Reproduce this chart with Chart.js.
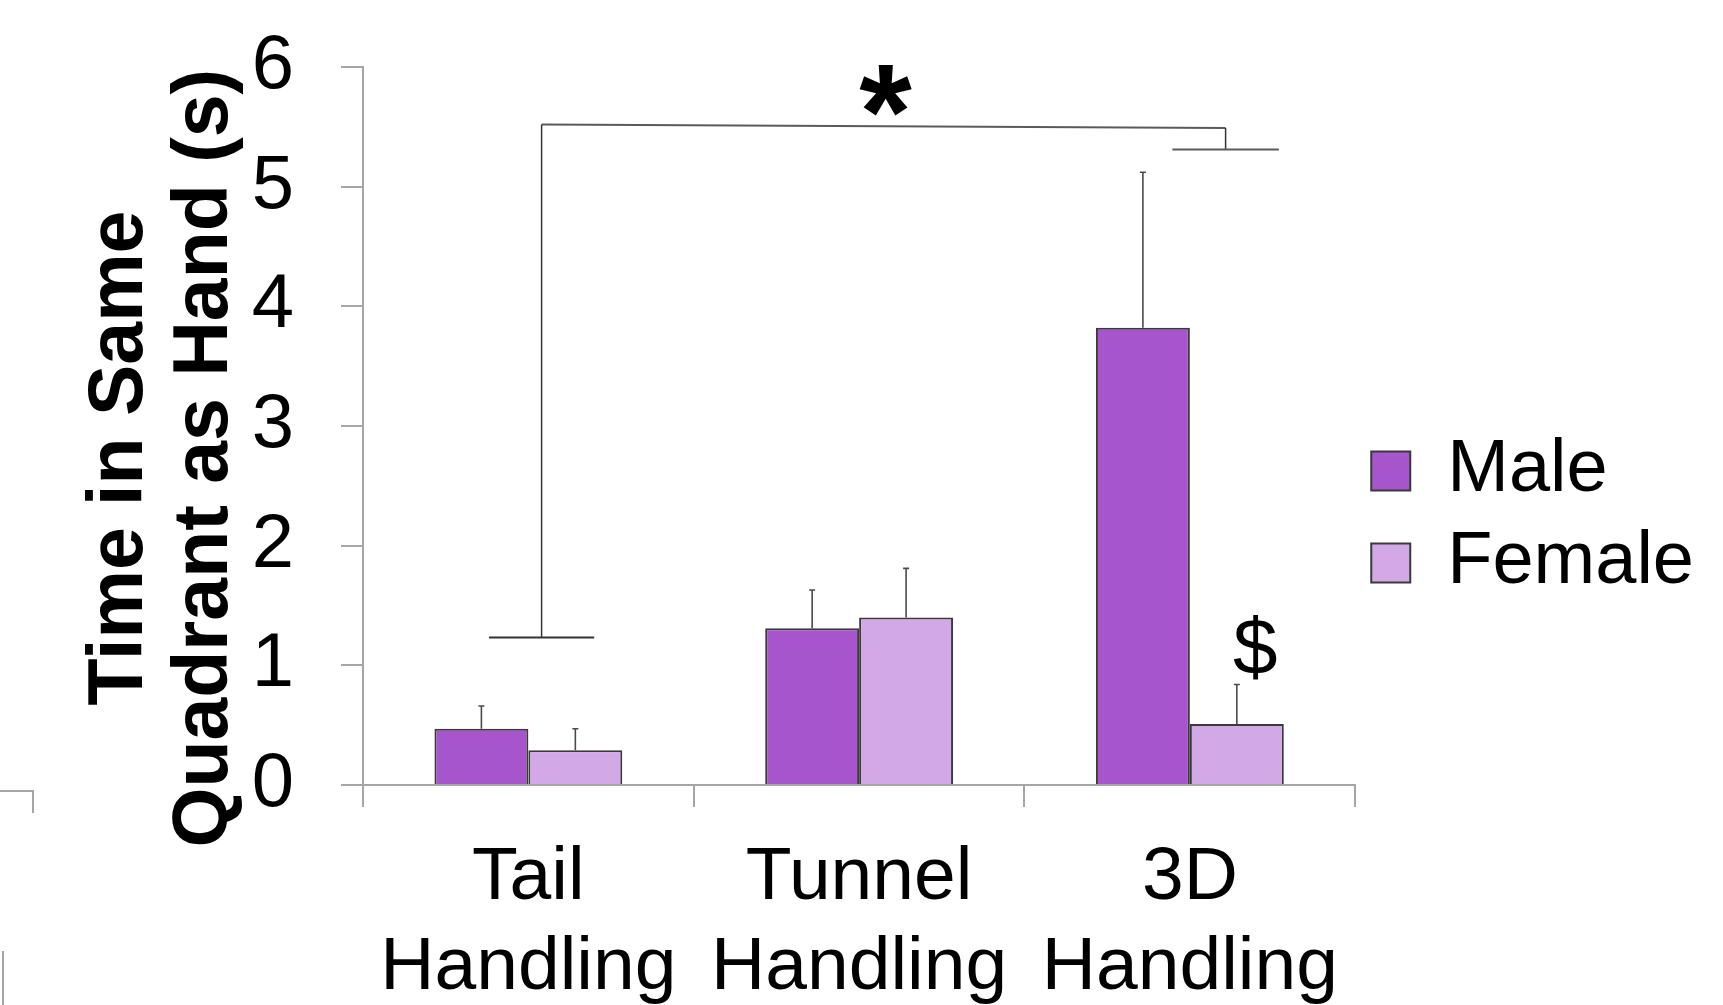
<!DOCTYPE html>
<html>
<head>
<meta charset="utf-8">
<title>Time in Same Quadrant as Hand</title>
<script src="https://cdn.jsdelivr.net/npm/chart.js@4.4.1/dist/chart.umd.min.js"></script>
<style>
  html, body { margin: 0; padding: 0; background: #fff; }
  #contenedor { width: 1723px; height: 1005px; }
</style>
</head>
<body>
<div id="contenedor"><canvas id="grafico"></canvas></div>
<script>
// ========== Datos ==========
const categorias = [["Tail", "Handling"], ["Tunnel", "Handling"], ["3D", "Handling"]];
const machos = [0.47, 1.31, 3.82];
const machosError = [0.19, 0.32, 1.3];
const hembras = [0.29, 1.4, 0.51];
const hembrasError = [0.18, 0.41, 0.33];
const ticksY = [0, 1, 2, 3, 4, 5, 6];

const FUENTE = '"Liberation Sans", Arial, sans-serif';
const GRIS_EJE = "#a6a6a6";
const BORDE = "#3a3a3a";

// ========== Barras de error (solo hacia arriba) ==========
const barrasError = {
  id: "barrasError",
  afterDatasetsDraw(chart) {
    const { ctx } = chart;
    const y = chart.scales.y;
    chart.data.datasets.forEach((ds, d) => {
      const meta = chart.getDatasetMeta(d);
      meta.data.forEach((bar, i) => {
        const tope = y.getPixelForValue(ds.data[i] + ds.errores[i]);
        ctx.save();
        ctx.strokeStyle = "#4a4a4a";
        ctx.lineWidth = 1.6;
        ctx.beginPath();
        ctx.moveTo(bar.x, bar.y);
        ctx.lineTo(bar.x, tope);
        ctx.moveTo(bar.x - 3, tope);
        ctx.lineTo(bar.x + 3, tope);
        ctx.stroke();
        ctx.restore();
      });
    });
  },
};

// ========== Corchete de significancia, * y $ ==========
function textoCentrado(ctx, texto, cx, cy) {
  const m = ctx.measureText(texto);
  const alto = m.actualBoundingBoxAscent + m.actualBoundingBoxDescent;
  ctx.textAlign = "center";
  ctx.textBaseline = "alphabetic";
  ctx.fillText(texto, cx, cy + alto / 2 - m.actualBoundingBoxDescent);
}

const anotaciones = {
  id: "anotaciones",
  afterDraw(chart) {
    const { ctx } = chart;
    const { x, y } = chart.scales;
    const linea = (x1, y1, x2, y2, ancho, color) => {
      ctx.strokeStyle = color;
      ctx.lineWidth = ancho;
      ctx.beginPath();
      ctx.moveTo(x.getPixelForValue(x1), y.getPixelForValue(y1));
      ctx.lineTo(x.getPixelForValue(x2), y.getPixelForValue(y2));
      ctx.stroke();
    };
    ctx.save();
    // corchete Tail vs 3D
    linea(0.04, 5.52, 2.108, 5.49, 2, "#5a5a5a");
    linea(0.04, 5.52, 0.04, 1.232, 1.5, "#333");
    linea(-0.119, 1.232, 0.199, 1.232, 2, "#333");
    linea(2.108, 5.49, 2.108, 5.31, 1.5, "#333");
    linea(1.947, 5.31, 2.269, 5.31, 2, "#5a5a5a");

    ctx.fillStyle = "#000";
    ctx.font = "bold 135px " + FUENTE;
    textoCentrado(ctx, "*", x.getPixelForValue(1.08), y.getPixelForValue(5.8));
    ctx.font = "80px " + FUENTE;
    textoCentrado(ctx, "$", x.getPixelForValue(2.198), y.getPixelForValue(1.145));

    // restos del panel vecino en el borde izquierdo
    ctx.strokeStyle = GRIS_EJE;
    ctx.lineWidth = 2;
    ctx.beginPath();
    ctx.moveTo(0, 791);
    ctx.lineTo(33, 791);
    ctx.lineTo(33, 813);
    ctx.moveTo(3, 951);
    ctx.lineTo(3, 1005);
    ctx.stroke();
    ctx.restore();
  },
};

// mueve la leyenda a la altura del original
const ajusteLeyenda = {
  id: "ajusteLeyenda",
  afterLayout(chart) {
    chart.legend.top -= 19;
    chart.legend.bottom -= 19;
    chart.legend.left -= 2;
    chart.legend.right -= 2;
  },
};

// ========== Grafico ==========
Chart.defaults.color = "#000";
Chart.defaults.font.family = FUENTE;

const ctx = document.getElementById("grafico").getContext("2d");
new Chart(ctx, {
  type: "bar",
  data: {
    labels: categorias,
    datasets: [
      {
        label: "Male",
        data: machos,
        errores: machosError,
        backgroundColor: "#a755cd",
        borderColor: BORDE,
        borderWidth: 2,
      },
      {
        label: "Female",
        data: hembras,
        errores: hembrasError,
        backgroundColor: "#d2a8e6",
        borderColor: BORDE,
        borderWidth: 2,
      },
    ],
  },
  options: {
    responsive: true,
    maintainAspectRatio: false,
    animation: false,
    layout: { padding: { top: 67, right: 17, bottom: 0, left: 0 } },
    datasets: { bar: { categoryPercentage: 0.568, barPercentage: 1 } },
    plugins: {
      tooltip: { enabled: false },
      legend: {
        position: "right",
        labels: {
          boxWidth: 39,
          boxHeight: 39,
          padding: 18,
          font: { size: 74 },
          color: "#000",
        },
      },
    },
    scales: {
      x: {
        afterFit: (s) => { s.height = 220; },
        grid: { drawOnChartArea: false, tickLength: 22, color: GRIS_EJE, lineWidth: 2 },
        border: { color: GRIS_EJE, width: 2 },
        ticks: { font: { size: 75, lineHeight: 1.19 }, padding: 27, maxRotation: 0 },
      },
      y: {
        min: ticksY[0],
        max: ticksY[ticksY.length - 1],
        afterFit: (s) => {
          s.width = 363;
          s.paddingTop = 0;
          s.paddingBottom = 0;
        },
        afterBuildTicks: (s) => { s.ticks = ticksY.map((v) => ({ value: v })); },
        grid: { drawOnChartArea: false, tickLength: 22, color: GRIS_EJE, lineWidth: 2 },
        border: { color: GRIS_EJE, width: 2 },
        ticks: { font: { size: 76 }, padding: 47 },
        title: {
          display: true,
          text: ["Time in Same   ", "Quadrant as Hand (s)   "],
          font: { size: 77, weight: "bold", lineHeight: 1.11 },
          padding: { top: 78, bottom: 0 },
        },
      },
    },
  },
  plugins: [barrasError, anotaciones, ajusteLeyenda],
});
</script>
</body>
</html>
